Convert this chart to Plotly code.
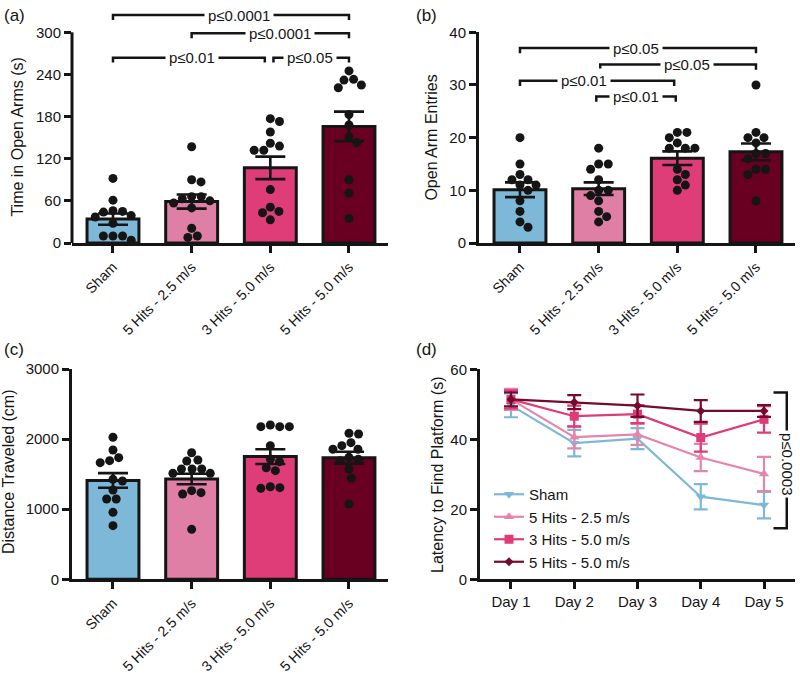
import plotly.graph_objects as go

# ---------------- data ----------------
groups = ["Sham", "5 Hits - 2.5 m/s", "3 Hits - 5.0 m/s", "5 Hits - 5.0 m/s"]
bar_colors = ["#7db8d8", "#e07fa5", "#de3d78", "#690022"]

# (a) Time in open arms (s)
a_sham = [92, 61, 46, 44, 45, 37, 39, 28, 10, 4, 10, 10]
a_h25 = [137, 87, 90, 66, 63, 60, 66, 57, 50, 21, 8, 10]
a_h35 = [177, 173, 158, 142, 132, 132, 138, 76, 45, 51, 43, 33]
a_h55 = [245, 232, 233, 221, 225, 183, 168, 151, 143, 90, 71, 35]
a_mean = [34, 59, 107, 166]
a_sem = [8, 10, 16, 21]

# (b) Open arm entries
b_sham = [20, 15, 13, 12, 12, 11, 11, 10, 8, 6, 4, 3]
b_h25 = [18, 15, 15, 14, 12, 10, 10, 9, 8, 6, 5, 4]
b_h35 = [21, 21, 20, 19, 18, 18, 18, 14, 13, 12, 11, 10]
b_h55 = [30, 21, 20, 20, 19, 17, 17, 16, 14, 14, 13, 8]
b_mean = [10.1, 10.3, 16.1, 17.3]
b_sem = [1.4, 1.2, 1.3, 1.6]

# (c) Distance traveled (cm)
c_sham = [2026, 1845, 1735, 1692, 1664, 1426, 1402, 1274, 1145, 1145, 955, 765]
c_h25 = [1806, 1702, 1688, 1574, 1574, 1574, 1512, 1512, 1264, 1236, 1217, 713]
c_h35 = [2201, 2177, 2177, 2177, 1906, 1716, 1678, 1592, 1550, 1321, 1307, 1298]
c_h55 = [2083, 2073, 1949, 1906, 1855, 1855, 1740, 1712, 1692, 1574, 1441, 1074]
c_mean = [1410, 1430, 1750, 1735]
c_sem = [105, 75, 105, 85]

# (d) Latency to find platform (s)
days = ["Day 1", "Day 2", "Day 3", "Day 4", "Day 5"]
d_sham = [49.7, 38.9, 40.2, 23.6, 21.2]
d_sham_sem = [3.4, 3.8, 3.0, 3.6, 3.8]
d_h25 = [51.4, 40.6, 41.4, 34.8, 30.1]
d_h25_sem = [3.0, 3.2, 3.0, 3.9, 4.9]
d_h35 = [51.4, 46.6, 47.2, 40.5, 45.7]
d_h35_sem = [2.6, 3.0, 2.6, 4.0, 3.8]
d_h55 = [51.4, 50.6, 49.6, 48.1, 48.1]
d_h55_sem = [2.0, 2.0, 3.2, 3.1, 1.7]
line_colors = ["#7db8d8", "#e585ad", "#de3b78", "#740a2c"]
line_symbols = ["triangle-down", "triangle-up", "square", "diamond"]

# significance brackets: (x_start, x_end, y, label, label_x)
a_sig = [(0, 3, 324.6, "p≤0.0001", 1.6), (1, 3, 298.6, "p≤0.0001", 2.12),
         (0, 1.93, 263.9, "p≤0.01", 1.01), (2.04, 3, 263.9, "p≤0.05", 2.51)]
b_sig = [(0, 3, 37.0, "p≤0.05", 1.47), (1.02, 3, 33.9, "p≤0.05", 2.12),
         (0, 1.96, 30.8, "p≤0.01", 0.82), (0.97, 1.98, 27.8, "p≤0.01", 1.47)]

# ---------------- layout helpers ----------------
W, H = 800, 673
FONT = "Liberation Sans, Arial, Helvetica, sans-serif"
INK = "#151515"


def px_x(px):
    return px / W


def px_y(py):
    return 1 - py / H


def swarm(values, px_per_unit, px_per_cat, d=9.6):
    """Simple beeswarm: place each dot as close to the centre as possible without overlap."""
    placed = []
    offsets = [0.0] * len(values)
    order = sorted(range(len(values)), key=lambda i: -values[i])
    for i in order:
        y = values[i] * px_per_unit
        cands = [0.0]
        for (qx, qy) in placed:
            dy = abs(qy - y)
            if dy < d:
                dx = (d * d - dy * dy) ** 0.5
                cands += [qx + dx, qx - dx]
        cands.sort(key=lambda c: (round(abs(c), 6), -c))
        best = 0.0
        for c in cands:
            if all((c - qx) ** 2 + (y - qy) ** 2 >= d * d - 1e-6 for qx, qy in placed):
                best = c
                break
        placed.append((best, y))
        offsets[i] = best / px_per_cat
    return offsets


fig = go.Figure()

CAT_PX = (349 - 113) / 3.0
XR_BAR = [-0.521, 3.496]

panels = [
    ("a", "x", "y", [a_sham, a_h25, a_h35, a_h55], a_mean, a_sem, 330, 210.7 / 300),
    ("b", "x2", "y2", [b_sham, b_h25, b_h35, b_h55], b_mean, b_sem, 40, 210.7 / 40),
    ("c", "x3", "y3", [c_sham, c_h25, c_h35, c_h55], c_mean, c_sem, 3000, 210.3 / 3000),
]

for name, xa, ya, data, means, sems, ytop, ppu in panels:
    fig.add_trace(go.Bar(
        x=list(range(4)), y=means, width=0.66,
        marker=dict(color=bar_colors, line=dict(color=INK, width=3)),
        xaxis=xa, yaxis=ya, showlegend=False, hoverinfo="skip"))
    xs, ys = [], []
    for gi, vals in enumerate(data):
        offs = swarm(vals, ppu, CAT_PX)
        xs += [gi + o for o in offs]
        ys += vals
    fig.add_trace(go.Scatter(
        x=xs, y=ys, mode="markers", cliponaxis=False,
        marker=dict(size=9, color=INK, line=dict(width=0)),
        xaxis=xa, yaxis=ya, showlegend=False, hoverinfo="skip"))
    fig.add_trace(go.Scatter(
        x=list(range(4)), y=means, mode="markers",
        marker=dict(size=1, color="rgba(0,0,0,0)"),
        error_y=dict(type="data", array=sems, visible=True, color=INK, thickness=2.6, width=15),
        xaxis=xa, yaxis=ya, showlegend=False, hoverinfo="skip"))

# (d) lines
d_series = [("Sham", d_sham, d_sham_sem), ("5 Hits - 2.5 m/s", d_h25, d_h25_sem),
            ("3 Hits - 5.0 m/s", d_h35, d_h35_sem), ("5 Hits - 5.0 m/s", d_h55, d_h55_sem)]
for k, (nm, vals, sem) in enumerate(d_series):
    sz = 7 if line_symbols[k] == "diamond" else 9
    fig.add_trace(go.Scatter(
        x=list(range(5)), y=vals, name=nm, mode="lines+markers",
        line=dict(color=line_colors[k], width=2.2),
        marker=dict(symbol=line_symbols[k], size=sz, color=line_colors[k]),
        error_y=dict(type="data", array=sem, visible=True, color=line_colors[k], thickness=2.2, width=7),
        xaxis="x4", yaxis="y4", cliponaxis=False))

# ---------------- axes ----------------
axis_common = dict(showgrid=False, zeroline=False, showline=True, linewidth=3, linecolor=INK,
                   ticks="outside", ticklen=7, tickwidth=2.5, tickcolor=INK, automargin=False,
                   tickfont=dict(family=FONT, size=15, color=INK), fixedrange=True)
rot_font = dict(family=FONT, size=14.3, color=INK)

fig.update_layout(
    template="none",
    width=W, height=H, margin=dict(l=0, r=0, t=0, b=0, pad=0, autoexpand=False),
    paper_bgcolor="white", plot_bgcolor="white",
    font=dict(family=FONT, size=15, color=INK),
    xaxis=dict(axis_common, domain=[px_x(72), px_x(388)], range=XR_BAR, anchor="y",
               tickvals=list(range(4)), ticktext=groups, tickangle=-45, tickfont=rot_font),
    yaxis=dict(axis_common, domain=[px_y(243), px_y(243 - 330 * 210.7 / 300)], range=[0, 330],
               anchor="x", tickvals=[0, 60, 120, 180, 240, 300], showline=False),
    xaxis2=dict(axis_common, domain=[px_x(479), px_x(795)], range=XR_BAR, anchor="y2",
                tickvals=list(range(4)), ticktext=groups, tickangle=-45, tickfont=rot_font),
    yaxis2=dict(axis_common, domain=[px_y(243), px_y(32.3)], range=[0, 40], anchor="x2",
                tickvals=[0, 10, 20, 30, 40]),
    xaxis3=dict(axis_common, domain=[px_x(72), px_x(388)], range=XR_BAR, anchor="y3",
                tickvals=list(range(4)), ticktext=groups, tickangle=-45, tickfont=rot_font),
    yaxis3=dict(axis_common, domain=[px_y(579.3), px_y(369)], range=[0, 3000], anchor="x3",
                tickvals=[0, 1000, 2000, 3000]),
    xaxis4=dict(axis_common, domain=[px_x(480), px_x(795)], range=[-0.49, 4.49], anchor="y4",
                tickvals=list(range(5)), ticktext=days, tickangle=0),
    yaxis4=dict(axis_common, domain=[px_y(579.3), px_y(369.3)], range=[0, 60], anchor="x4",
                tickvals=[0, 20, 40, 60]),
    legend=dict(x=px_x(489), y=px_y(478), xanchor="left", yanchor="top",
                bgcolor="rgba(0,0,0,0)", font=dict(family=FONT, size=15, color=INK),
                tracegroupgap=0, itemwidth=30),
    showlegend=True,
)

shapes = []
annotations = []

# y-axis line of panel (a) stops at 300
shapes.append(dict(type="line", xref="x domain", yref="y domain", x0=0, x1=0, y0=0, y1=300 / 330,
                   line=dict(color=INK, width=3)))


def add_brackets(sigs, xref, yref, drop):
    for (x0, x1, y, lab, lx) in sigs:
        shapes.append(dict(type="path", xref=xref, yref=yref,
                           path=f"M {x0} {y - drop} L {x0} {y} L {x1} {y} L {x1} {y - drop}",
                           line=dict(color=INK, width=2.5)))
        annotations.append(dict(xref=xref, yref=yref, x=lx, y=y, text=lab, showarrow=False,
                                bgcolor="white", borderpad=3,
                                font=dict(family=FONT, size=15, color=INK)))


add_brackets(a_sig, "x", "y", 7)
add_brackets(b_sig, "x2", "y2", 1.0)

# (d) significance bracket
shapes.append(dict(type="path", xref="x4", yref="y4",
                   path="M 4.15 53.4 L 4.36 53.4 L 4.36 14.6 L 4.15 14.6",
                   line=dict(color=INK, width=2.5)))
annotations.append(dict(xref="x4", yref="y4", x=4.36, y=33.0, text="p≤0.0003", textangle=90,
                        showarrow=False, bgcolor="white", borderpad=2,
                        font=dict(family=FONT, size=15, color=INK)))

# axis titles
titles = [("Time in Open Arms (s)", 18, 137.6), ("Open Arm Entries", 432, 137.6),
          ("Distance Traveled (cm)", 9, 472), ("Latency to Find Platform (s)", 437, 475)]
for t, x, y in titles:
    annotations.append(dict(xref="paper", yref="paper", x=px_x(x), y=px_y(y), text=t,
                            textangle=-90, showarrow=False, xanchor="center", yanchor="middle",
                            font=dict(family=FONT, size=16, color=INK)))

# panel letters
for t, x, y in [("(a)", 14, 15), ("(b)", 427, 15), ("(c)", 14, 349), ("(d)", 427, 349)]:
    annotations.append(dict(xref="paper", yref="paper", x=px_x(x), y=px_y(y), text=t,
                            showarrow=False, xanchor="center", yanchor="middle",
                            font=dict(family=FONT, size=17, color=INK)))

fig.update_layout(shapes=shapes, annotations=annotations)
fig.write_html("out.html", config={"displayModeBar": False},
               post_script="document.body.style.margin='0';document.body.style.overflow='hidden';")
